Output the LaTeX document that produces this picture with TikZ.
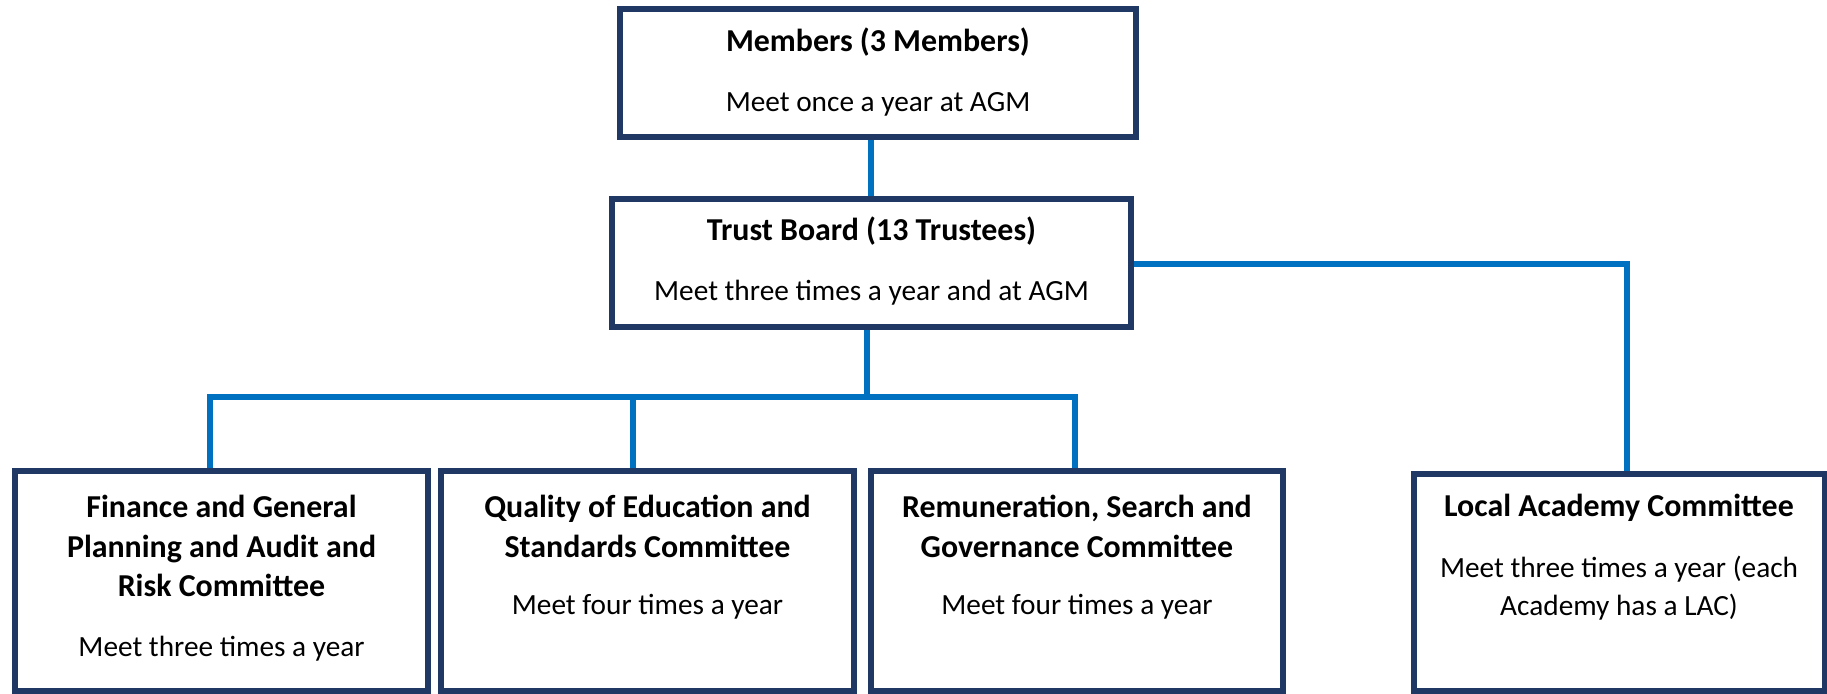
\documentclass[tikz,border=0pt]{standalone}
\usepackage{fontspec}
\setmainfont{Carlito}
\definecolor{boxnavy}{HTML}{1F3864}
\definecolor{linkblue}{HTML}{0070C0}
\begin{document}
\begin{tikzpicture}[x=0.5pt,y=-0.5pt,
  box/.style={draw=boxnavy, line width=3pt, fill=white, inner sep=0pt},
  link/.style={draw=linkblue, line width=3pt},
  txt/.style={inner sep=0pt, align=center, font=\fontsize{14.65pt}{19pt}\selectfont},
  ttl/.style={txt, font=\fontsize{15.95pt}{19.9pt}\selectfont\bfseries}]
\useasboundingbox (0,0) rectangle (1827,693);
% boxes
\node[box, minimum width=258pt, minimum height=64pt] (mem) at (878,73) {};
\node[box, minimum width=259.5pt, minimum height=64pt] (trust) at (871.5,263) {};
\node[box, minimum width=206.5pt, minimum height=110pt] (f1) at (221.5,581) {};
\node[box, minimum width=206.5pt, minimum height=110pt] (f2) at (647.5,581) {};
\node[box, minimum width=206pt, minimum height=110pt] (f3) at (1077,581) {};
\node[box, minimum width=205.5pt, minimum height=108.5pt] (lac) at (1619,582.5) {};
% texts
\node[ttl] (memT) at (878,42) {Members (3 Members)};
\node[txt] (memB) at (878,104) {Meet once a year at AGM};
\node[ttl] (trustT) at (871.5,231) {Trust Board (13 Trustees)};
\node[txt] (trustB) at (871.5,292.5) {Meet three times a year and at AGM};
\node[ttl] (f1T) at (221.5,546) {Finance and General\\Planning and Audit and\\Risk Committee};
\node[txt] (f1B) at (221.5,649) {Meet three times a year};
\node[ttl] (f2T) at (647.5,526) {Quality of Education and\\Standards Committee};
\node[txt] (f2B) at (647.5,607) {Meet four times a year};
\node[ttl] (f3T) at (1077,526) {Remuneration, Search and\\Governance Committee};
\node[txt] (f3B) at (1077,607) {Meet four times a year};
\node[ttl] (lacT) at (1619,508) {Local Academy Committee};
\node[txt] (lacB) at (1619,588) {Meet three times a year (each\\Academy has a LAC)};
% connector bends
\coordinate (m) at (871,0);
\coordinate (bt) at (867,397);
\coordinate (b1) at (210,397);
\coordinate (b2) at (633,397);
\coordinate (b3) at (1075,397);
\coordinate (r1) at (1626.5,264);
% connectors
\draw[link] (mem.south -| m) -- (trust.north -| m);
\draw[link] (trust.south -| bt) -- (bt);
\draw[link] (f1.north -| b1) -- (b1) -- (b3) -- (f3.north -| b3);
\draw[link] (f2.north -| b2) -- (b2);
\draw[link] (trust.east |- r1) -- (r1) -- (lac.north -| r1);
\end{tikzpicture}
\end{document}
